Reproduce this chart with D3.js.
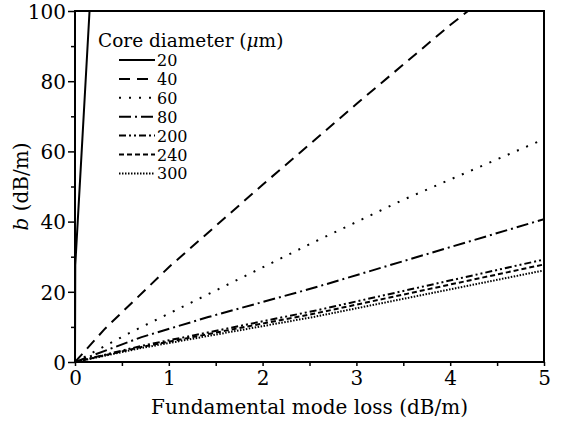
<!DOCTYPE html>
<html>
<head>
<meta charset="utf-8">
<script src="https://cdn.jsdelivr.net/npm/d3@7"></script>
<style>
    body { margin: 0; background: #fff; }
</style>
</head>
<body>
<svg id="chart" width="561" height="421"></svg>
<script>
// Core diameters shown in the legend (um)
let coreDiameters = ["20", "40", "60", "80", "200", "240", "300"];

// [fundamental mode loss (dB/m), b (dB/m)]
let core20 = [[0, 0], [0.003, 27.6], [0.079, 63.7], [0.155, 100]];
let core40 = [[0, 0], [0.32, 9.5], [1, 27], [2, 50.5], [3, 73.5], [4, 96], [4.19, 100]];
let core60 = [[0, 0], [0.568, 8.1], [2.52, 33.8], [3.49, 46.1], [5, 63.5]];
let core80 = [[0, 0], [0.71, 7.1], [1.42, 12.8], [2.556, 21.2], [5, 40.7]];
let core200 = [[0, 0], [0.71, 4.6], [2.556, 14.6], [5, 29.2]];
let core240 = [[0, 0], [0.71, 4.3], [2.556, 13.8], [5, 27.8]];
let core300 = [[0, 0], [0.71, 4.0], [2.556, 12.9], [5, 26.1]];

let xTicks = [0, 0.5, 1, 1.5, 2, 2.5, 3, 3.5, 4, 4.5, 5];
let yTicks = [0, 10, 20, 30, 40, 50, 60, 70, 80, 90, 100];

let allSeries = [core20, core40, core60, core80, core200, core240, core300];
// dash pattern per core diameter, same order as coreDiameters
let dashes = ["none", "11,7", "2,8", "12,4,2,4", "7,3,2,3,2,3", "5,3", "1.5,1.5"];

let serif = "'DejaVu Serif', 'Liberation Serif', serif";

let svg = d3.select("#chart");
let margin = {top: 11, right: 17, bottom: 59, left: 75};
let width = 561 - margin.left - margin.right;
let height = 421 - margin.top - margin.bottom;

let xScale = d3.scaleLinear().domain([0, 5]).range([0, width]);
let yScale = d3.scaleLinear().domain([0, 100]).range([height, 0]);

let g = svg.append("g").attr("transform", `translate(${margin.left},${margin.top})`);

g.append("clipPath").attr("id", "clip")
    .append("rect").attr("width", width).attr("height", height);

// x axis: ticks every 0.5, labels on integers
let xAxis = d3.axisBottom(xScale)
    .tickValues(xTicks)
    .tickSize(4)
    .tickFormat(d => Number.isInteger(d) ? d : "");
let xg = g.append("g").attr("transform", `translate(0,${height})`).call(xAxis);

// y axis: major ticks on 20s, minor in between
let yAxis = d3.axisLeft(yScale)
    .tickValues(yTicks)
    .tickSize(0)
    .tickFormat(d => d % 20 === 0 ? d : "");
let yg = g.append("g").call(yAxis);
yg.selectAll(".tick line")
    .attr("x2", d => d % 20 === 0 ? -7 : -4);

[xg, yg].forEach(ax => {
    ax.attr("font-family", null).attr("font-size", null);
    ax.select(".domain").remove();
    ax.selectAll(".tick line").attr("stroke", "#000").attr("stroke-width", 1.5);
    ax.selectAll(".tick text")
        .style("font-family", serif)
        .style("font-size", "20px")
        .attr("fill", "#000");
});
xg.selectAll(".tick text").attr("dy", 0).attr("y", 23);
yg.selectAll(".tick text").attr("x", -9).attr("dy", "0.36em");

// lines
let line = d3.line()
    .x(d => xScale(d[0]))
    .y(d => yScale(d[1]));

g.append("g").attr("clip-path", "url(#clip)")
    .selectAll("path")
    .data(allSeries)
    .enter()
    .append("path")
    .attr("d", line)
    .attr("fill", "none")
    .attr("stroke", "#000")
    .attr("stroke-width", 2)
    .attr("stroke-dasharray", (d, i) => dashes[i]);

// frame
g.append("rect")
    .attr("width", width)
    .attr("height", height)
    .attr("fill", "none")
    .attr("stroke", "#000")
    .attr("stroke-width", 2);

// legend
let legend = g.append("g").attr("transform", "translate(23,0)");
let legendTitle = legend.append("text")
    .attr("x", 0)
    .attr("y", 36)
    .style("font-family", serif)
    .style("font-size", "18.5px");
legendTitle.append("tspan").text("Core diameter (");
legendTitle.append("tspan").attr("font-style", "italic").text("\u03bc");
legendTitle.append("tspan").text("m)");

let rows = legend.selectAll(".row")
    .data(coreDiameters)
    .enter()
    .append("g")
    .attr("class", "row")
    .attr("transform", (d, i) => `translate(0,${49 + i * 18.9})`);

rows.append("line")
    .attr("x1", 21).attr("x2", 57)
    .attr("stroke", "#000")
    .attr("stroke-width", 2)
    .attr("stroke-dasharray", (d, i) => dashes[i]);

rows.append("text")
    .attr("x", 59)
    .attr("y", 6)
    .style("font-family", serif)
    .style("font-size", "16px")
    .text(d => d);

// axis titles
svg.append("text")
    .attr("x", margin.left + width / 2)
    .attr("y", 414)
    .attr("text-anchor", "middle")
    .style("font-family", serif)
    .style("font-size", "20px")
    .text("Fundamental mode loss (dB/m)");

let yTitle = svg.append("text")
    .attr("transform", `translate(28,${margin.top + height / 2}) rotate(-90)`)
    .attr("text-anchor", "middle")
    .style("font-family", serif)
    .style("font-size", "20px");
yTitle.append("tspan").attr("font-style", "italic").text("b");
yTitle.append("tspan").text(" (dB/m)");
</script>
</body>
</html>
